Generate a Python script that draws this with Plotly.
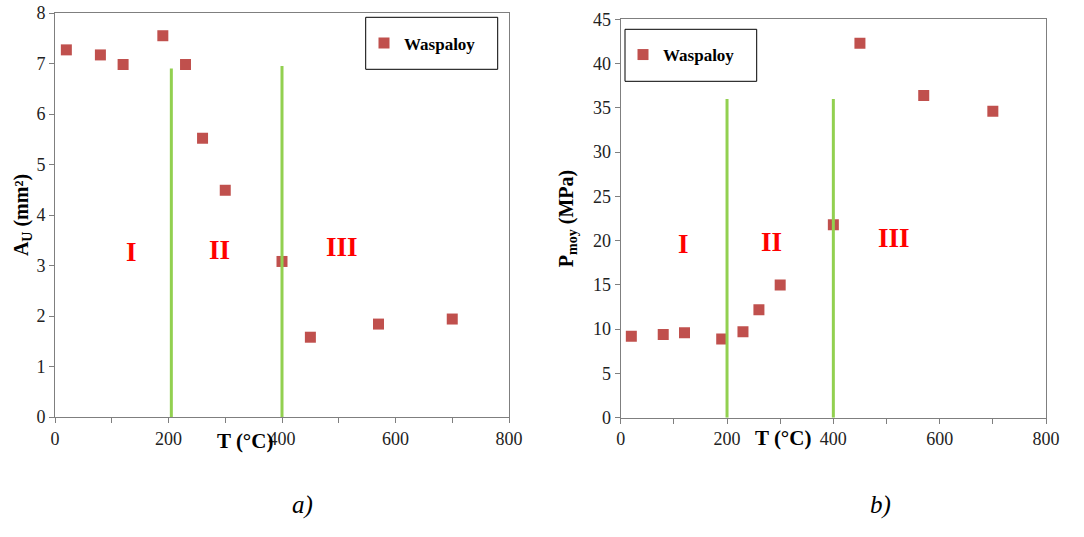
import plotly.graph_objects as go

# ---- data ----
temperature = [20, 80, 120, 190, 230, 260, 300, 400, 450, 570, 700]
area_u = [7.27, 7.17, 6.98, 7.55, 6.98, 5.52, 4.49, 3.08, 1.58, 1.84, 1.94]
p_moy = [9.2, 9.4, 9.6, 8.9, 9.7, 12.2, 15.0, 21.8, 42.3, 36.4, 34.6]

boundaries_a = [205, 400]
boundary_tops_a = [6.9, 6.95]
boundaries_b = [200, 400]
boundary_tops_b = [36, 36]

zone_labels = ["I", "II", "III"]
zone_x_a = [134, 289, 505]
zone_y_a = [3.27, 3.3, 3.37]
zone_x_b = [119, 284, 514]
zone_y_b = [19.6, 19.8, 20.3]

series_name = "Waspaloy"

RED = "#C0504D"
GREEN = "#92D050"
FONT = "Liberation Serif"
W, H = 1084, 537
OFF = 0  # page body margin removed via post_script

fig = go.Figure()

fig.add_trace(go.Scatter(x=temperature, y=area_u, mode="markers", name="<b>" + series_name + "</b>",
                         marker=dict(symbol="square", size=11, color=RED),
                         xaxis="x", yaxis="y", legend="legend"))
fig.add_trace(go.Scatter(x=temperature, y=p_moy, mode="markers", name="<b>" + series_name + "</b>",
                         marker=dict(symbol="square", size=11, color=RED),
                         xaxis="x2", yaxis="y2", legend="legend2"))

for xb, top in zip(boundaries_a, boundary_tops_a):
    fig.add_trace(go.Scatter(x=[xb, xb], y=[0, top], mode="lines",
                             line=dict(color=GREEN, width=3), showlegend=False,
                             xaxis="x", yaxis="y", hoverinfo="skip"))
for xb, top in zip(boundaries_b, boundary_tops_b):
    fig.add_trace(go.Scatter(x=[xb, xb], y=[0, top], mode="lines",
                             line=dict(color=GREEN, width=3), showlegend=False,
                             xaxis="x2", yaxis="y2", hoverinfo="skip"))

def px_x(p):
    return (p - OFF) / W

def px_y(p):
    return (H - (p - OFF)) / H

axis_common = dict(showgrid=False, zeroline=False, showline=True, linecolor="#7f7f7f",
                   linewidth=1, mirror=True, ticks="outside", ticklen=5, tickcolor="#7f7f7f",
                   automargin=False, ticklabeloverflow="allow",
                   tickfont=dict(family=FONT, size=18, color="#222222"))

fig.update_layout(
    template="none",
    font=dict(family=FONT, size=18, color="black"),
    width=W, height=H, margin=dict(l=0, r=0, t=0, b=0, pad=0),
    paper_bgcolor="white", plot_bgcolor="white",
    xaxis=dict(domain=[px_x(55), px_x(509)], range=[0, 800], dtick=200,
               minor=dict(dtick=100, ticks="outside", ticklen=5, tickcolor="#7f7f7f"),
               anchor="y", **axis_common),
    yaxis=dict(domain=[px_y(417), px_y(13)], range=[0, 8], dtick=1, anchor="x",
               title=dict(text="<b>A<sub>U</sub> (mm²)</b>", standoff=2,
                          font=dict(family=FONT, size=20, color="black")),
               **axis_common),
    xaxis2=dict(domain=[px_x(620.7), px_x(1046)], range=[0, 800], dtick=200,
                minor=dict(dtick=100, ticks="outside", ticklen=5, tickcolor="#7f7f7f"),
                anchor="y2", **axis_common),
    yaxis2=dict(domain=[px_y(417.7), px_y(19.3)], range=[0, 45], dtick=5, anchor="x2",
                title=dict(text="<b>P<sub>moy</sub> (MPa)</b>", standoff=14,
                           font=dict(family=FONT, size=20, color="black")),
                **axis_common),
    legend=dict(x=px_x(364), y=px_y(43.5), xanchor="left", yanchor="middle",
                bgcolor="rgba(0,0,0,0)", borderwidth=0,
                font=dict(family=FONT, size=17, color="black")),
    legend2=dict(x=px_x(623), y=px_y(55), xanchor="left", yanchor="middle",
                 bgcolor="rgba(0,0,0,0)", borderwidth=0,
                 font=dict(family=FONT, size=17, color="black")),
    showlegend=True,
)

# legend boxes
fig.add_shape(type="rect", xref="paper", yref="paper",
              x0=px_x(365.7), x1=px_x(497.7), y0=px_y(69.3), y1=px_y(17.3),
              line=dict(color="black", width=1))
fig.add_shape(type="rect", xref="paper", yref="paper",
              x0=px_x(625), x1=px_x(756.7), y0=px_y(81.3), y1=px_y(29.3),
              line=dict(color="black", width=1))

zone_font = dict(family=FONT, size=27, color="#FF0000")
for lab, xv, yv in zip(zone_labels, zone_x_a, zone_y_a):
    fig.add_annotation(x=xv, y=yv, xref="x", yref="y", text="<b>" + lab + "</b>",
                       showarrow=False, font=zone_font)
for lab, xv, yv in zip(zone_labels, zone_x_b, zone_y_b):
    fig.add_annotation(x=xv, y=yv, xref="x2", yref="y2", text="<b>" + lab + "</b>",
                       showarrow=False, font=zone_font)

title_font = dict(family=FONT, size=21, color="black")
fig.add_annotation(x=335, y=px_y(455), xref="x", yref="paper", text="<b>T (°C)</b>",
                   showarrow=False, font=title_font)
fig.add_annotation(x=305, y=px_y(452), xref="x2", yref="paper", text="<b>T (°C)</b>",
                   showarrow=False, font=title_font)

cap_font = dict(family=FONT, size=25, color="black")
fig.add_annotation(x=px_x(290), y=px_y(521), xref="paper", yref="paper", text="<i>a)</i>",
                   showarrow=False, font=cap_font)
fig.add_annotation(x=px_x(893), y=px_y(521), xref="paper", yref="paper", text="<i>b)</i>",
                   showarrow=False, font=cap_font)

fig.write_html("out.html", config={"displayModeBar": False},
               post_script="document.body.style.margin='0';document.body.style.overflow='hidden';")
